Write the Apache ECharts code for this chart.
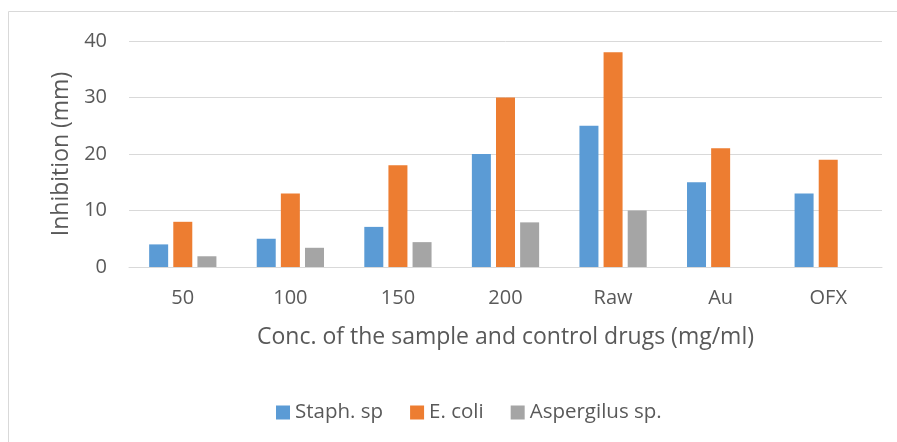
<!DOCTYPE html>
<html>
<head>
<meta charset="utf-8">
<script src="https://cdn.jsdelivr.net/npm/echarts@6/dist/echarts.min.js"></script>
<style>
    html, body { margin: 0; padding: 0; background: #fff; }
    #main_chart { width: 897px; height: 442px; }
</style>
</head>
<body>
<div id="main_chart"></div>
<script>
// 数据
var categories = ['50', '100', '150', '200', 'Raw', 'Au', 'OFX'];
var staphValues = [4, 5, 7.1, 20, 25, 15, 13];
var ecoliValues = [8, 13, 18, 30, 38, 21, 19];
var aspergilusValues = [1.9, 3.4, 4.4, 7.9, 10, 0, 0];
var yTicks = { min: 0, max: 40, interval: 10 };

var fontName = 'Open Sans';
var textColor = '#595959';
var lineColor = '#d9d9d9';

function barSeries(name, data, color) {
    return {
        name: name,
        type: 'bar',
        data: data,
        barWidth: 19,
        barGap: '27%',
        itemStyle: {
            color: color
        }
    };
}

var option = {
    animation: false,
    textStyle: {
        fontFamily: fontName
    },
    graphic: [{
        type: 'rect',
        shape: { x: 8.5, y: 11.5, width: 1000, height: 1000 },
        style: { fill: 'none', stroke: lineColor, lineWidth: 1 }
    }],
    grid: {
        top: 41,
        left: 129,
        right: 15,
        bottom: 175
    },
    legend: {
        top: 397,
        left: 271,
        itemWidth: 14,
        itemHeight: 14,
        itemGap: 27,
        icon: 'rect',
        textStyle: {
            fontSize: 20.5,
            color: textColor,
            fontFamily: fontName
        },
        data: ['Staph. sp', 'E. coli', 'Aspergilus sp.']
    },
    xAxis: {
        type: 'category',
        data: categories,
        name: 'Conc. of the sample and control drugs (mg/ml)',
        nameLocation: 'middle',
        nameGap: 59,
        nameTextStyle: {
            fontSize: 23,
            color: textColor
        },
        axisTick: { show: false },
        axisLabel: {
            fontSize: 20,
            color: textColor,
            margin: 21
        },
        axisLine: {
            lineStyle: { color: lineColor, width: 1 }
        }
    },
    yAxis: {
        type: 'value',
        min: yTicks.min,
        max: yTicks.max,
        interval: yTicks.interval,
        name: 'Inhibition (mm)',
        nameLocation: 'middle',
        nameGap: 55,
        nameTextStyle: {
            fontSize: 23,
            color: textColor
        },
        axisLabel: {
            fontSize: 20,
            color: textColor,
            margin: 22
        },
        axisLine: { show: false },
        axisTick: { show: false },
        splitLine: {
            lineStyle: { color: lineColor, width: 1 }
        }
    },
    series: [
        barSeries('Staph. sp', staphValues, '#5b9bd5'),
        barSeries('E. coli', ecoliValues, '#ed7d31'),
        barSeries('Aspergilus sp.', aspergilusValues, '#a5a5a5')
    ]
};

echarts.init(document.getElementById('main_chart')).setOption(option);
</script>
</body>
</html>
